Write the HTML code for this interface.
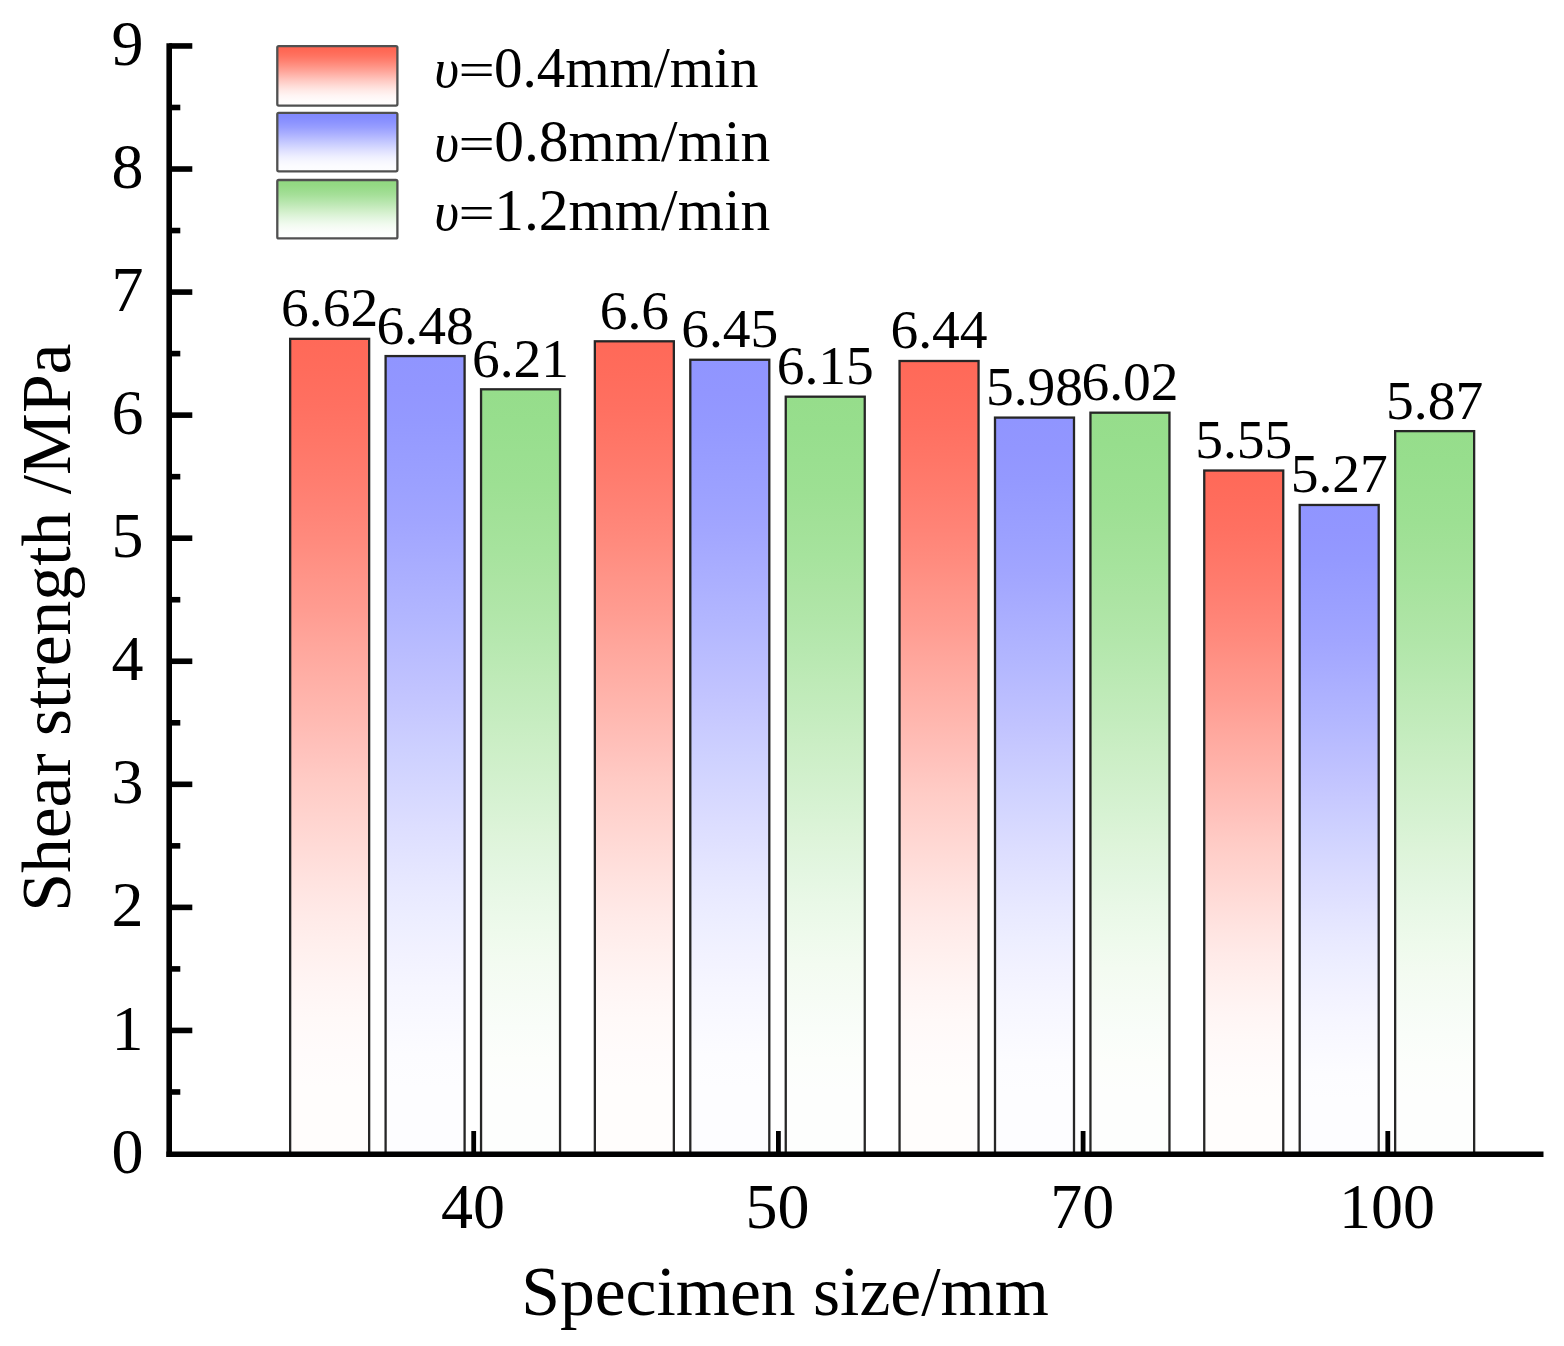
<!DOCTYPE html>
<html><head><meta charset="utf-8"><title>Shear strength vs specimen size</title>
<style>
html,body{margin:0;padding:0;background:#fff;}
body{width:1564px;height:1346px;overflow:hidden;}
svg{display:block;}
text{font-family:'Liberation Serif','Times New Roman',serif;fill:#000;}
</style></head><body>
<svg width="1564" height="1346" viewBox="0 0 1564 1346">
<defs>
<linearGradient id="gr" x1="0" y1="0" x2="0" y2="1"><stop offset="0.0000" stop-color="#ff6958"/><stop offset="0.0417" stop-color="#ff6c5c"/><stop offset="0.0833" stop-color="#ff7061"/><stop offset="0.1250" stop-color="#ff7667"/><stop offset="0.1667" stop-color="#ff7c6e"/><stop offset="0.2083" stop-color="#ff8376"/><stop offset="0.2500" stop-color="#ff8b7e"/><stop offset="0.2917" stop-color="#ff9488"/><stop offset="0.3333" stop-color="#ff9c91"/><stop offset="0.3750" stop-color="#ffa69c"/><stop offset="0.4167" stop-color="#ffafa6"/><stop offset="0.4583" stop-color="#ffb8b0"/><stop offset="0.5000" stop-color="#ffc1bb"/><stop offset="0.5417" stop-color="#ffcbc5"/><stop offset="0.5833" stop-color="#ffd3ce"/><stop offset="0.6250" stop-color="#ffdbd7"/><stop offset="0.6667" stop-color="#ffe3e0"/><stop offset="0.7083" stop-color="#ffeae8"/><stop offset="0.7500" stop-color="#fff0ee"/><stop offset="0.7917" stop-color="#fff5f4"/><stop offset="0.8333" stop-color="#fff9f8"/><stop offset="0.8750" stop-color="#fffbfb"/><stop offset="0.9167" stop-color="#fffdfc"/><stop offset="0.9583" stop-color="#fffdfc"/><stop offset="1.0000" stop-color="#fffdfc"/></linearGradient>
<linearGradient id="lr" x1="0" y1="0" x2="0" y2="1"><stop offset="0.0000" stop-color="#ff6450"/><stop offset="0.0833" stop-color="#ff6956"/><stop offset="0.1667" stop-color="#ff7361"/><stop offset="0.2500" stop-color="#ff8171"/><stop offset="0.3333" stop-color="#ff9284"/><stop offset="0.4167" stop-color="#ffa498"/><stop offset="0.5000" stop-color="#ffb7ae"/><stop offset="0.5833" stop-color="#ffcac3"/><stop offset="0.6667" stop-color="#ffdbd6"/><stop offset="0.7500" stop-color="#ffeae7"/><stop offset="0.8333" stop-color="#fff5f4"/><stop offset="0.9167" stop-color="#fffbfb"/><stop offset="1.0000" stop-color="#fffdfc"/></linearGradient>
<linearGradient id="gb" x1="0" y1="0" x2="0" y2="1"><stop offset="0.0000" stop-color="#9095ff"/><stop offset="0.0417" stop-color="#9296ff"/><stop offset="0.0833" stop-color="#9499ff"/><stop offset="0.1250" stop-color="#989dff"/><stop offset="0.1667" stop-color="#9ca1ff"/><stop offset="0.2083" stop-color="#a1a5ff"/><stop offset="0.2500" stop-color="#a7abff"/><stop offset="0.2917" stop-color="#adb1ff"/><stop offset="0.3333" stop-color="#b3b7ff"/><stop offset="0.3750" stop-color="#babdff"/><stop offset="0.4167" stop-color="#c1c3ff"/><stop offset="0.4583" stop-color="#c8caff"/><stop offset="0.5000" stop-color="#ced1ff"/><stop offset="0.5417" stop-color="#d5d7ff"/><stop offset="0.5833" stop-color="#dcddff"/><stop offset="0.6250" stop-color="#e2e3ff"/><stop offset="0.6667" stop-color="#e8e9ff"/><stop offset="0.7083" stop-color="#edeeff"/><stop offset="0.7500" stop-color="#f2f2ff"/><stop offset="0.7917" stop-color="#f6f6ff"/><stop offset="0.8333" stop-color="#f9f9ff"/><stop offset="0.8750" stop-color="#fcfcff"/><stop offset="0.9167" stop-color="#fdfdff"/><stop offset="0.9583" stop-color="#fdfdff"/><stop offset="1.0000" stop-color="#fdfdff"/></linearGradient>
<linearGradient id="lb" x1="0" y1="0" x2="0" y2="1"><stop offset="0.0000" stop-color="#8088ff"/><stop offset="0.0833" stop-color="#848cff"/><stop offset="0.1667" stop-color="#8d94ff"/><stop offset="0.2500" stop-color="#989eff"/><stop offset="0.3333" stop-color="#a6abff"/><stop offset="0.4167" stop-color="#b5b9ff"/><stop offset="0.5000" stop-color="#c4c8ff"/><stop offset="0.5833" stop-color="#d3d6ff"/><stop offset="0.6667" stop-color="#e2e3ff"/><stop offset="0.7500" stop-color="#eeefff"/><stop offset="0.8333" stop-color="#f7f7ff"/><stop offset="0.9167" stop-color="#fcfcff"/><stop offset="1.0000" stop-color="#fdfdff"/></linearGradient>
<linearGradient id="gg" x1="0" y1="0" x2="0" y2="1"><stop offset="0.0000" stop-color="#96dd8b"/><stop offset="0.0417" stop-color="#97de8d"/><stop offset="0.0833" stop-color="#9adf90"/><stop offset="0.1250" stop-color="#9de093"/><stop offset="0.1667" stop-color="#a2e198"/><stop offset="0.2083" stop-color="#a6e39d"/><stop offset="0.2500" stop-color="#ace4a3"/><stop offset="0.2917" stop-color="#b1e6a9"/><stop offset="0.3333" stop-color="#b7e8b0"/><stop offset="0.3750" stop-color="#beeab7"/><stop offset="0.4167" stop-color="#c4ecbe"/><stop offset="0.4583" stop-color="#cbeec5"/><stop offset="0.5000" stop-color="#d1f0cc"/><stop offset="0.5417" stop-color="#d7f2d3"/><stop offset="0.5833" stop-color="#def4da"/><stop offset="0.6250" stop-color="#e3f6e1"/><stop offset="0.6667" stop-color="#e9f8e7"/><stop offset="0.7083" stop-color="#eefaec"/><stop offset="0.7500" stop-color="#f3fbf1"/><stop offset="0.7917" stop-color="#f6fcf5"/><stop offset="0.8333" stop-color="#f9fdf9"/><stop offset="0.8750" stop-color="#fcfefb"/><stop offset="0.9167" stop-color="#fdfefd"/><stop offset="0.9583" stop-color="#fdfefd"/><stop offset="1.0000" stop-color="#fdfefd"/></linearGradient>
<linearGradient id="lg" x1="0" y1="0" x2="0" y2="1"><stop offset="0.0000" stop-color="#90d880"/><stop offset="0.0833" stop-color="#94d984"/><stop offset="0.1667" stop-color="#9bdc8d"/><stop offset="0.2500" stop-color="#a5df98"/><stop offset="0.3333" stop-color="#b1e4a6"/><stop offset="0.4167" stop-color="#bee8b5"/><stop offset="0.5000" stop-color="#ccedc4"/><stop offset="0.5833" stop-color="#d9f2d3"/><stop offset="0.6667" stop-color="#e5f6e2"/><stop offset="0.7500" stop-color="#f0faee"/><stop offset="0.8333" stop-color="#f8fcf7"/><stop offset="0.9167" stop-color="#fcfefc"/><stop offset="1.0000" stop-color="#fdfefd"/></linearGradient>
</defs>
<rect width="1564" height="1346" fill="#fff"/>
<rect x="290.15" y="338.84" width="79.00" height="815.46" fill="url(#gr)" stroke="#262626" stroke-width="2.3"/>
<text x="329.65" y="326.34" font-size="55.5" text-anchor="middle">6.62</text>
<rect x="385.60" y="356.07" width="79.00" height="798.23" fill="url(#gb)" stroke="#262626" stroke-width="2.3"/>
<text x="425.10" y="343.57" font-size="55.5" text-anchor="middle">6.48</text>
<rect x="481.05" y="389.30" width="79.00" height="765.00" fill="url(#gg)" stroke="#262626" stroke-width="2.3"/>
<text x="520.55" y="376.80" font-size="55.5" text-anchor="middle">6.21</text>
<rect x="594.85" y="341.30" width="79.00" height="813.00" fill="url(#gr)" stroke="#262626" stroke-width="2.3"/>
<text x="634.35" y="328.80" font-size="55.5" text-anchor="middle">6.6</text>
<rect x="690.30" y="359.76" width="79.00" height="794.54" fill="url(#gb)" stroke="#262626" stroke-width="2.3"/>
<text x="729.80" y="347.26" font-size="55.5" text-anchor="middle">6.45</text>
<rect x="785.75" y="396.68" width="79.00" height="757.62" fill="url(#gg)" stroke="#262626" stroke-width="2.3"/>
<text x="825.25" y="384.18" font-size="55.5" text-anchor="middle">6.15</text>
<rect x="899.55" y="360.99" width="79.00" height="793.31" fill="url(#gr)" stroke="#262626" stroke-width="2.3"/>
<text x="939.05" y="348.49" font-size="55.5" text-anchor="middle">6.44</text>
<rect x="995.00" y="417.60" width="79.00" height="736.70" fill="url(#gb)" stroke="#262626" stroke-width="2.3"/>
<text x="1034.50" y="405.10" font-size="55.5" text-anchor="middle">5.98</text>
<rect x="1090.45" y="412.68" width="79.00" height="741.62" fill="url(#gg)" stroke="#262626" stroke-width="2.3"/>
<text x="1129.95" y="400.18" font-size="55.5" text-anchor="middle">6.02</text>
<rect x="1204.25" y="470.52" width="79.00" height="683.78" fill="url(#gr)" stroke="#262626" stroke-width="2.3"/>
<text x="1243.75" y="458.02" font-size="55.5" text-anchor="middle">5.55</text>
<rect x="1299.70" y="504.97" width="79.00" height="649.33" fill="url(#gb)" stroke="#262626" stroke-width="2.3"/>
<text x="1339.20" y="492.47" font-size="55.5" text-anchor="middle">5.27</text>
<rect x="1395.15" y="431.14" width="79.00" height="723.16" fill="url(#gg)" stroke="#262626" stroke-width="2.3"/>
<text x="1434.65" y="418.64" font-size="55.5" text-anchor="middle">5.87</text>
<g stroke="#000" stroke-width="5.6" fill="none">
<line x1="169.2" y1="43.16" x2="169.2" y2="1157.10"/>
<line x1="166.40" y1="1154.3" x2="1543.5" y2="1154.3"/>
<line x1="169.2" y1="1030.44" x2="192.3" y2="1030.44"/>
<line x1="169.2" y1="907.38" x2="192.3" y2="907.38"/>
<line x1="169.2" y1="784.32" x2="192.3" y2="784.32"/>
<line x1="169.2" y1="661.26" x2="192.3" y2="661.26"/>
<line x1="169.2" y1="538.20" x2="192.3" y2="538.20"/>
<line x1="169.2" y1="415.14" x2="192.3" y2="415.14"/>
<line x1="169.2" y1="292.08" x2="192.3" y2="292.08"/>
<line x1="169.2" y1="169.02" x2="192.3" y2="169.02"/>
<line x1="169.2" y1="45.96" x2="192.3" y2="45.96"/>
<line x1="169.2" y1="1091.97" x2="180.3" y2="1091.97"/>
<line x1="169.2" y1="968.91" x2="180.3" y2="968.91"/>
<line x1="169.2" y1="845.85" x2="180.3" y2="845.85"/>
<line x1="169.2" y1="722.79" x2="180.3" y2="722.79"/>
<line x1="169.2" y1="599.73" x2="180.3" y2="599.73"/>
<line x1="169.2" y1="476.67" x2="180.3" y2="476.67"/>
<line x1="169.2" y1="353.61" x2="180.3" y2="353.61"/>
<line x1="169.2" y1="230.55" x2="180.3" y2="230.55"/>
<line x1="169.2" y1="107.49" x2="180.3" y2="107.49"/>
<line x1="473.70" y1="1131" x2="473.70" y2="1154.3" stroke-width="4.8"/>
<line x1="778.40" y1="1131" x2="778.40" y2="1154.3" stroke-width="4.8"/>
<line x1="1083.10" y1="1131" x2="1083.10" y2="1154.3" stroke-width="4.8"/>
<line x1="1387.80" y1="1131" x2="1387.80" y2="1154.3" stroke-width="4.8"/>
</g>
<text x="127.5" y="1172.60" font-size="64" text-anchor="middle">0</text>
<text x="127.5" y="1049.54" font-size="64" text-anchor="middle">1</text>
<text x="127.5" y="926.48" font-size="64" text-anchor="middle">2</text>
<text x="127.5" y="803.42" font-size="64" text-anchor="middle">3</text>
<text x="127.5" y="680.36" font-size="64" text-anchor="middle">4</text>
<text x="127.5" y="557.30" font-size="64" text-anchor="middle">5</text>
<text x="127.5" y="434.24" font-size="64" text-anchor="middle">6</text>
<text x="127.5" y="311.18" font-size="64" text-anchor="middle">7</text>
<text x="127.5" y="188.12" font-size="64" text-anchor="middle">8</text>
<text x="127.5" y="65.06" font-size="64" text-anchor="middle">9</text>
<text x="472.90" y="1228.3" font-size="64" text-anchor="middle">40</text>
<text x="777.60" y="1228.3" font-size="64" text-anchor="middle">50</text>
<text x="1082.30" y="1228.3" font-size="64" text-anchor="middle">70</text>
<text x="1387.00" y="1228.3" font-size="64" text-anchor="middle">100</text>
<text x="521.2" y="1315" font-size="69.6">Specimen size/mm</text>
<text transform="translate(70.2,911.8) rotate(-90)" x="0" y="0" font-size="69.6">Shear strength /MPa</text>
<rect x="277.3" y="46.1" width="120.1" height="59.5" rx="1.5" fill="url(#lr)" stroke="#505050" stroke-width="2.3"/>
<rect x="277.3" y="112.8" width="120.1" height="58.5" rx="1.5" fill="url(#lb)" stroke="#505050" stroke-width="2.3"/>
<rect x="277.3" y="180.0" width="120.1" height="58.4" rx="1.5" fill="url(#lg)" stroke="#505050" stroke-width="2.3"/>
<text x="434.2" y="86.5" font-size="54" font-style="italic">υ</text><text transform="translate(458.5,85.6) scale(1.15,0.87)" font-size="56">=</text><text x="494.0" y="86.5" font-size="57">0.4mm/min</text>
<text x="434.2" y="160.5" font-size="54" font-style="italic">υ</text><text transform="translate(458.5,159.6) scale(1.15,0.87)" font-size="56">=</text><text x="494.2" y="160.5" font-size="59.5">0.8mm/min</text>
<text x="434.2" y="230.3" font-size="54" font-style="italic">υ</text><text transform="translate(458.5,229.4) scale(1.15,0.87)" font-size="56">=</text><text x="494.2" y="230.3" font-size="59.5">1.2mm/min</text>
</svg>
</body></html>
